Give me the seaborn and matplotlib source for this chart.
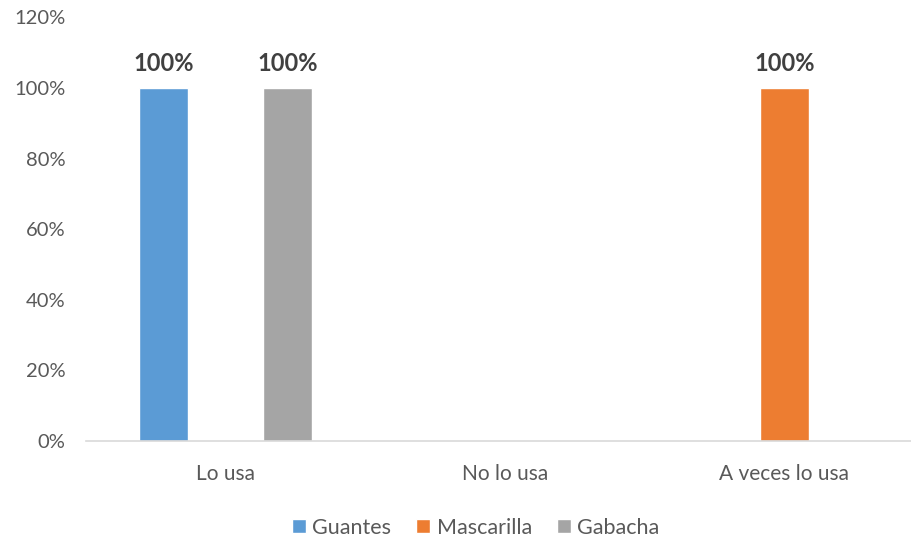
import matplotlib
matplotlib.use("Agg")
import matplotlib.pyplot as plt
import seaborn as sns
import pandas as pd
from matplotlib.ticker import FuncFormatter

categorias = ["Lo usa", "No lo usa", "A veces lo usa"]
series = ["Guantes", "Mascarilla", "Gabacha"]
guantes = [100, 0, 0]
mascarilla = [0, 0, 100]
gabacha = [100, 0, 0]
colores = ["#5B9BD5", "#ED7D31", "#A5A5A5"]

df = pd.DataFrame({
    "categoria": categorias * 3,
    "serie": [s for s in series for _ in categorias],
    "valor": guantes + mascarilla + gabacha,
})

sns.set_theme(style="white")
plt.rcParams["font.family"] = ["Lato", "DejaVu Sans"]

fig = plt.figure(figsize=(9.12, 5.37), dpi=100)
# plot area runs slightly past the right edge of the canvas
ax = fig.add_axes([0.0943, 0.179, 0.9189, 0.7886])

sns.barplot(data=df, x="categoria", y="valor", hue="serie", order=categorias,
            hue_order=series, palette=colores, width=0.6655, gap=0.21,
            saturation=1, errorbar=None, ax=ax, legend=True)

ax.set_ylim(0, 120)
ax.set_xlim(-0.5, 2.5)
ax.set_yticks(range(0, 121, 20))
ax.yaxis.set_major_formatter(FuncFormatter(lambda v, p: f"{v:.0f}%"))
ax.set_xlabel("")
ax.set_ylabel("")
for s in ["top", "right", "left"]:
    ax.spines[s].set_visible(False)
ax.spines["bottom"].set_color("#D9D9D9")
ax.spines["bottom"].set_linewidth(1.2)
ax.tick_params(axis="both", length=0, colors="#595959")
ax.tick_params(axis="y", pad=15, labelsize=14.5)
ax.tick_params(axis="x", pad=17, labelsize=15)

for cont in ax.containers:
    labels = [f"{b.get_height():.0f}%" if b.get_height() > 0 else "" for b in cont]
    ax.bar_label(cont, labels=labels, padding=9, fontsize=17,
                 fontweight="bold", color="#404040")

handles, lbls = ax.get_legend_handles_labels()
ax.legend(handles, lbls, loc="center", bbox_to_anchor=(0.465, -0.205),
          ncol=3, frameon=False, fontsize=15.5, handlelength=0.65,
          handleheight=0.65, handletextpad=0.3, columnspacing=1.15,
          labelcolor="#595959")

fig.savefig("out.png", dpi=100)
